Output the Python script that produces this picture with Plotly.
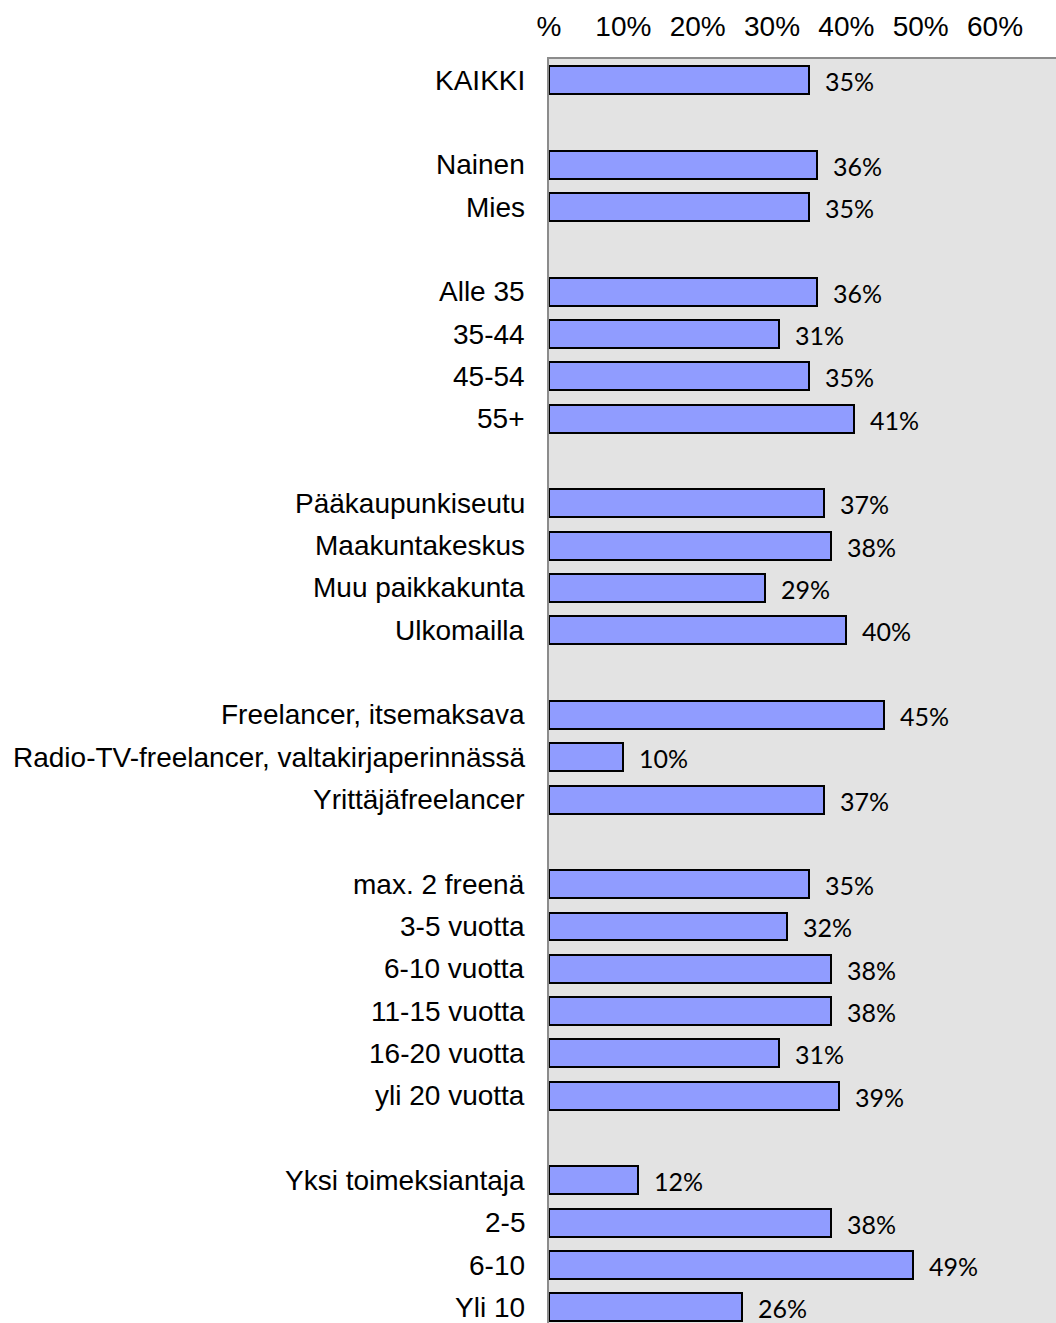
import plotly.graph_objects as go

# Share of respondents per group (%), listed top to bottom; None marks a spacer row
categories = [
    "KAIKKI", None,
    "Nainen", "Mies", None,
    "Alle 35", "35-44", "45-54", "55+", None,
    "Pääkaupunkiseutu", "Maakuntakeskus", "Muu paikkakunta", "Ulkomailla", None,
    "Freelancer, itsemaksava", "Radio-TV-freelancer, valtakirjaperinnässä", "Yrittäjäfreelancer", None,
    "max. 2 freenä", "3-5 vuotta", "6-10 vuotta", "11-15 vuotta", "16-20 vuotta", "yli 20 vuotta", None,
    "Yksi toimeksiantaja", "2-5", "6-10", "Yli 10",
]
values = [
    35, None,
    36, 35, None,
    36, 31, 35, 41, None,
    37, 38, 29, 40, None,
    45, 10, 37, None,
    35, 32, 38, 38, 31, 39, None,
    12, 38, 49, 26,
]
x_tickvals = [0, 10, 20, 30, 40, 50, 60]
x_ticktext = ["%", "10%", "20%", "30%", "40%", "50%", "60%"]

rows = [i for i, c in enumerate(categories) if c is not None]
labels = [categories[i] for i in rows]
vals = [values[i] for i in rows]

fig = go.Figure()
fig.add_trace(go.Bar(
    x=vals,
    y=rows,
    orientation="h",
    width=0.66,
    marker=dict(
        color="#8f9bff",
        line=dict(color="black", width=2),
        pattern=dict(shape=".", size=2, solidity=0.5,
                     fgcolor="#b9c0ff", bgcolor="#7080ff", fillmode="replace"),
    ),
    hoverinfo="skip",
))

# value labels just right of each bar
for r, v in zip(rows, vals):
    fig.add_annotation(
        x=v, y=r, text=f"{v}%", showarrow=False,
        xanchor="left", yanchor="middle", xshift=14, yshift=-1,
        font=dict(family="Lato, Open Sans, sans-serif", size=25, color="black"),
    )

# category labels, right-aligned left of the plot area
for r, lab in zip(rows, labels):
    fig.add_annotation(
        x=0, xref="paper", y=r, yref="y", text=lab, showarrow=False,
        xanchor="right", yanchor="middle", xshift=-22,
        font=dict(family="Liberation Sans, Arial, sans-serif", size=28, color="black"),
    )

fig.update_layout(
    width=1056, height=1323,
    margin=dict(l=549, r=0, t=59, b=0),
    paper_bgcolor="white",
    plot_bgcolor="#e3e3e3",
    showlegend=False,
    bargap=0,
    xaxis=dict(
        side="top", range=[0, 68.2],
        tickvals=x_tickvals, ticktext=x_ticktext,
        showgrid=False, zeroline=False,
        showline=True, linecolor="#8c8c8c", linewidth=2,
        ticks="", ticklabelstandoff=10,
        tickfont=dict(family="Liberation Sans, Arial, sans-serif", size=28, color="black"),
    ),
    yaxis=dict(
        range=[29.37, -0.5],
        showticklabels=False,
        showgrid=False, zeroline=False,
        showline=True, linecolor="#8c8c8c", linewidth=2,
        ticks="",
    ),
)

fig.write_html("out.html")
